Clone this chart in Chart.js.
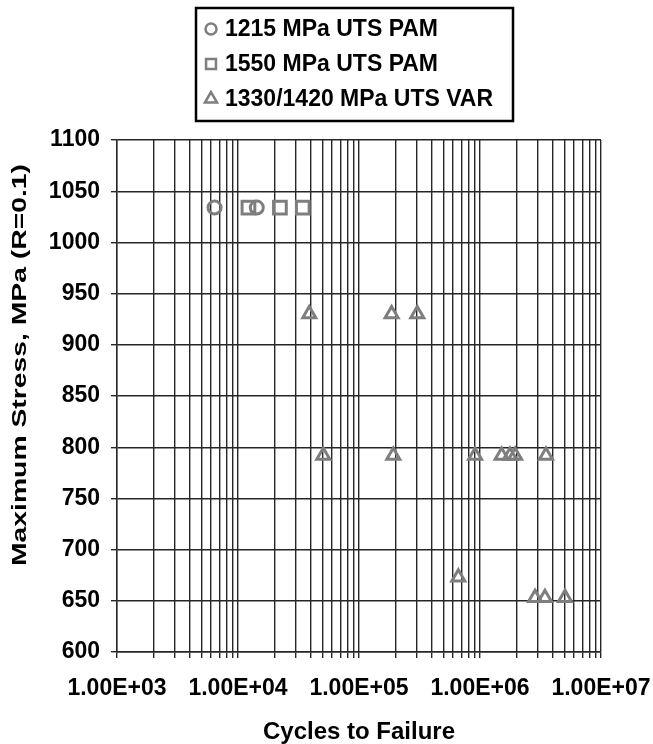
<!DOCTYPE html>
<html>
<head>
<meta charset="utf-8">
<script src="https://cdn.jsdelivr.net/npm/chart.js@4/dist/chart.umd.min.js"></script>
<style>
  html, body { margin: 0; padding: 0; background: #fff; }
  #wrap { width: 653px; height: 744px; }
</style>
</head>
<body>
<div id="wrap"><canvas id="snChart" width="653" height="744"></canvas></div>
<script>
// S-N data
const pam1215Cycles = [6400, 14300];
const pam1215Stress = [1034, 1034];

const pam1550Cycles = [12200, 22200, 34300];
const pam1550Stress = [1034, 1034, 1034];

const varCycles = [38800, 186000, 303000,
  50700, 192000, 910000, 1510000, 1770000, 1950000, 3510000,
  662000,
  2850000, 3440000, 5040000];
const varStress = [930, 930, 930,
  792, 792, 792, 792, 792, 792, 792,
  673,
  653, 653, 653];

const seriesLabels = ["1215 MPa UTS PAM", "1550 MPa UTS PAM", "1330/1420 MPa UTS VAR"];
const decades = [1e3, 1e4, 1e5, 1e6, 1e7];
const xTickLabels = ["1.00E+03", "1.00E+04", "1.00E+05", "1.00E+06", "1.00E+07"];
const minorSteps = [1, 2, 3, 4, 5, 6, 7, 8, 9];
const yTitle = "Maximum Stress, MPa (R=0.1)";

const FONT = "'Liberation Sans', Arial, sans-serif";
const GRAY = "#7e7e7e";
const GRID = "#262626";

function toPoints(xs, ys) {
  return xs.map((x, i) => ({ x, y: ys[i] }));
}

// legend drawn as a boxed list like the original
const boxLegend = {
  id: "boxLegend",
  afterDraw(chart) {
    const ctx = chart.ctx;
    const sizes = { circle: 5.5, rect: 7, triangle: 7 };
    ctx.save();
    ctx.lineWidth = 2.5;
    ctx.strokeStyle = "#000";
    ctx.strokeRect(196, 8, 317, 113);
    ctx.font = "bold 23px " + FONT;
    ctx.textBaseline = "middle";
    chart.data.datasets.forEach((ds, i) => {
      const y = 29 + i * 35;
      ctx.strokeStyle = GRAY;
      ctx.fillStyle = "rgba(0,0,0,0)";
      Chart.helpers.drawPoint(ctx, { pointStyle: ds.pointStyle, radius: sizes[ds.pointStyle], borderWidth: 3, rotation: 0 }, 211, y);
      ctx.fillStyle = "#000";
      ctx.fillText(ds.label, 225, y + 1);
    });
    ctx.restore();
  }
};

// wide y-axis title, as in the source figure
const yAxisTitle = {
  id: "yAxisTitle",
  afterDraw(chart) {
    const ctx = chart.ctx;
    ctx.save();
    ctx.font = "bold 21px " + FONT;
    const w = ctx.measureText(yTitle).width;
    ctx.translate(20, 365);
    ctx.rotate(-Math.PI / 2);
    ctx.scale(402 / w, 1);
    ctx.fillStyle = "#000";
    ctx.textAlign = "center";
    ctx.textBaseline = "middle";
    ctx.fillText(yTitle, 0, 0);
    ctx.restore();
  }
};

const ds = (label, style, data, r) => ({
  label,
  data,
  pointStyle: style,
  pointRadius: r,
  pointBorderWidth: 3,
  pointBorderColor: GRAY,
  pointBackgroundColor: "rgba(0,0,0,0)",
  showLine: false
});

new Chart(document.getElementById("snChart"), {
  type: "scatter",
  data: {
    datasets: [
      ds(seriesLabels[0], "circle", toPoints(pam1215Cycles, pam1215Stress), 6.5),
      ds(seriesLabels[1], "rect", toPoints(pam1550Cycles, pam1550Stress), 9),
      ds(seriesLabels[2], "triangle", toPoints(varCycles, varStress), 7.5)
    ]
  },
  options: {
    responsive: false,
    animation: false,
    layout: { padding: { top: 140, right: 52, left: 0, bottom: 0 } },
    plugins: { legend: { display: false }, tooltip: { enabled: false } },
    scales: {
      x: {
        type: "logarithmic",
        min: 1e3,
        max: 1e7,
        afterFit: s => { s.height = 92; s.paddingLeft = 0; s.paddingRight = 0; },
        afterBuildTicks: s => {
          const t = [];
          decades.slice(0, -1).forEach(d => minorSteps.forEach(m => t.push({ value: d * m })));
          t.push({ value: decades[decades.length - 1] });
          s.ticks = t;
        },
        ticks: {
          autoSkip: false,
          maxRotation: 0,
          padding: 17,
          color: "#000",
          font: { family: FONT, size: 23, weight: "bold" },
          callback: v => {
            const i = decades.indexOf(v);
            return i >= 0 ? xTickLabels[i] : "";
          }
        },
        grid: { color: GRID, lineWidth: 1.4, tickLength: 6 },
        border: { color: GRID, width: 1.4 },
        title: {
          display: true,
          text: "Cycles to Failure",
          color: "#000",
          padding: { top: 0, bottom: 0 },
          font: { family: FONT, size: 24, weight: "bold", lineHeight: 1 }
        }
      },
      y: {
        min: 600,
        max: 1100,
        afterFit: s => { s.width = 117; s.paddingTop = 0; s.paddingBottom = 0; },
        ticks: {
          stepSize: 50,
          padding: 11,
          color: "#000",
          font: { family: FONT, size: 23, weight: "bold" },
          callback: v => String(v)
        },
        grid: { color: GRID, lineWidth: 1.4, tickLength: 6 },
        border: { color: GRID, width: 1.4 }
      }
    }
  },
  plugins: [boxLegend, yAxisTitle]
});
</script>
</body>
</html>
